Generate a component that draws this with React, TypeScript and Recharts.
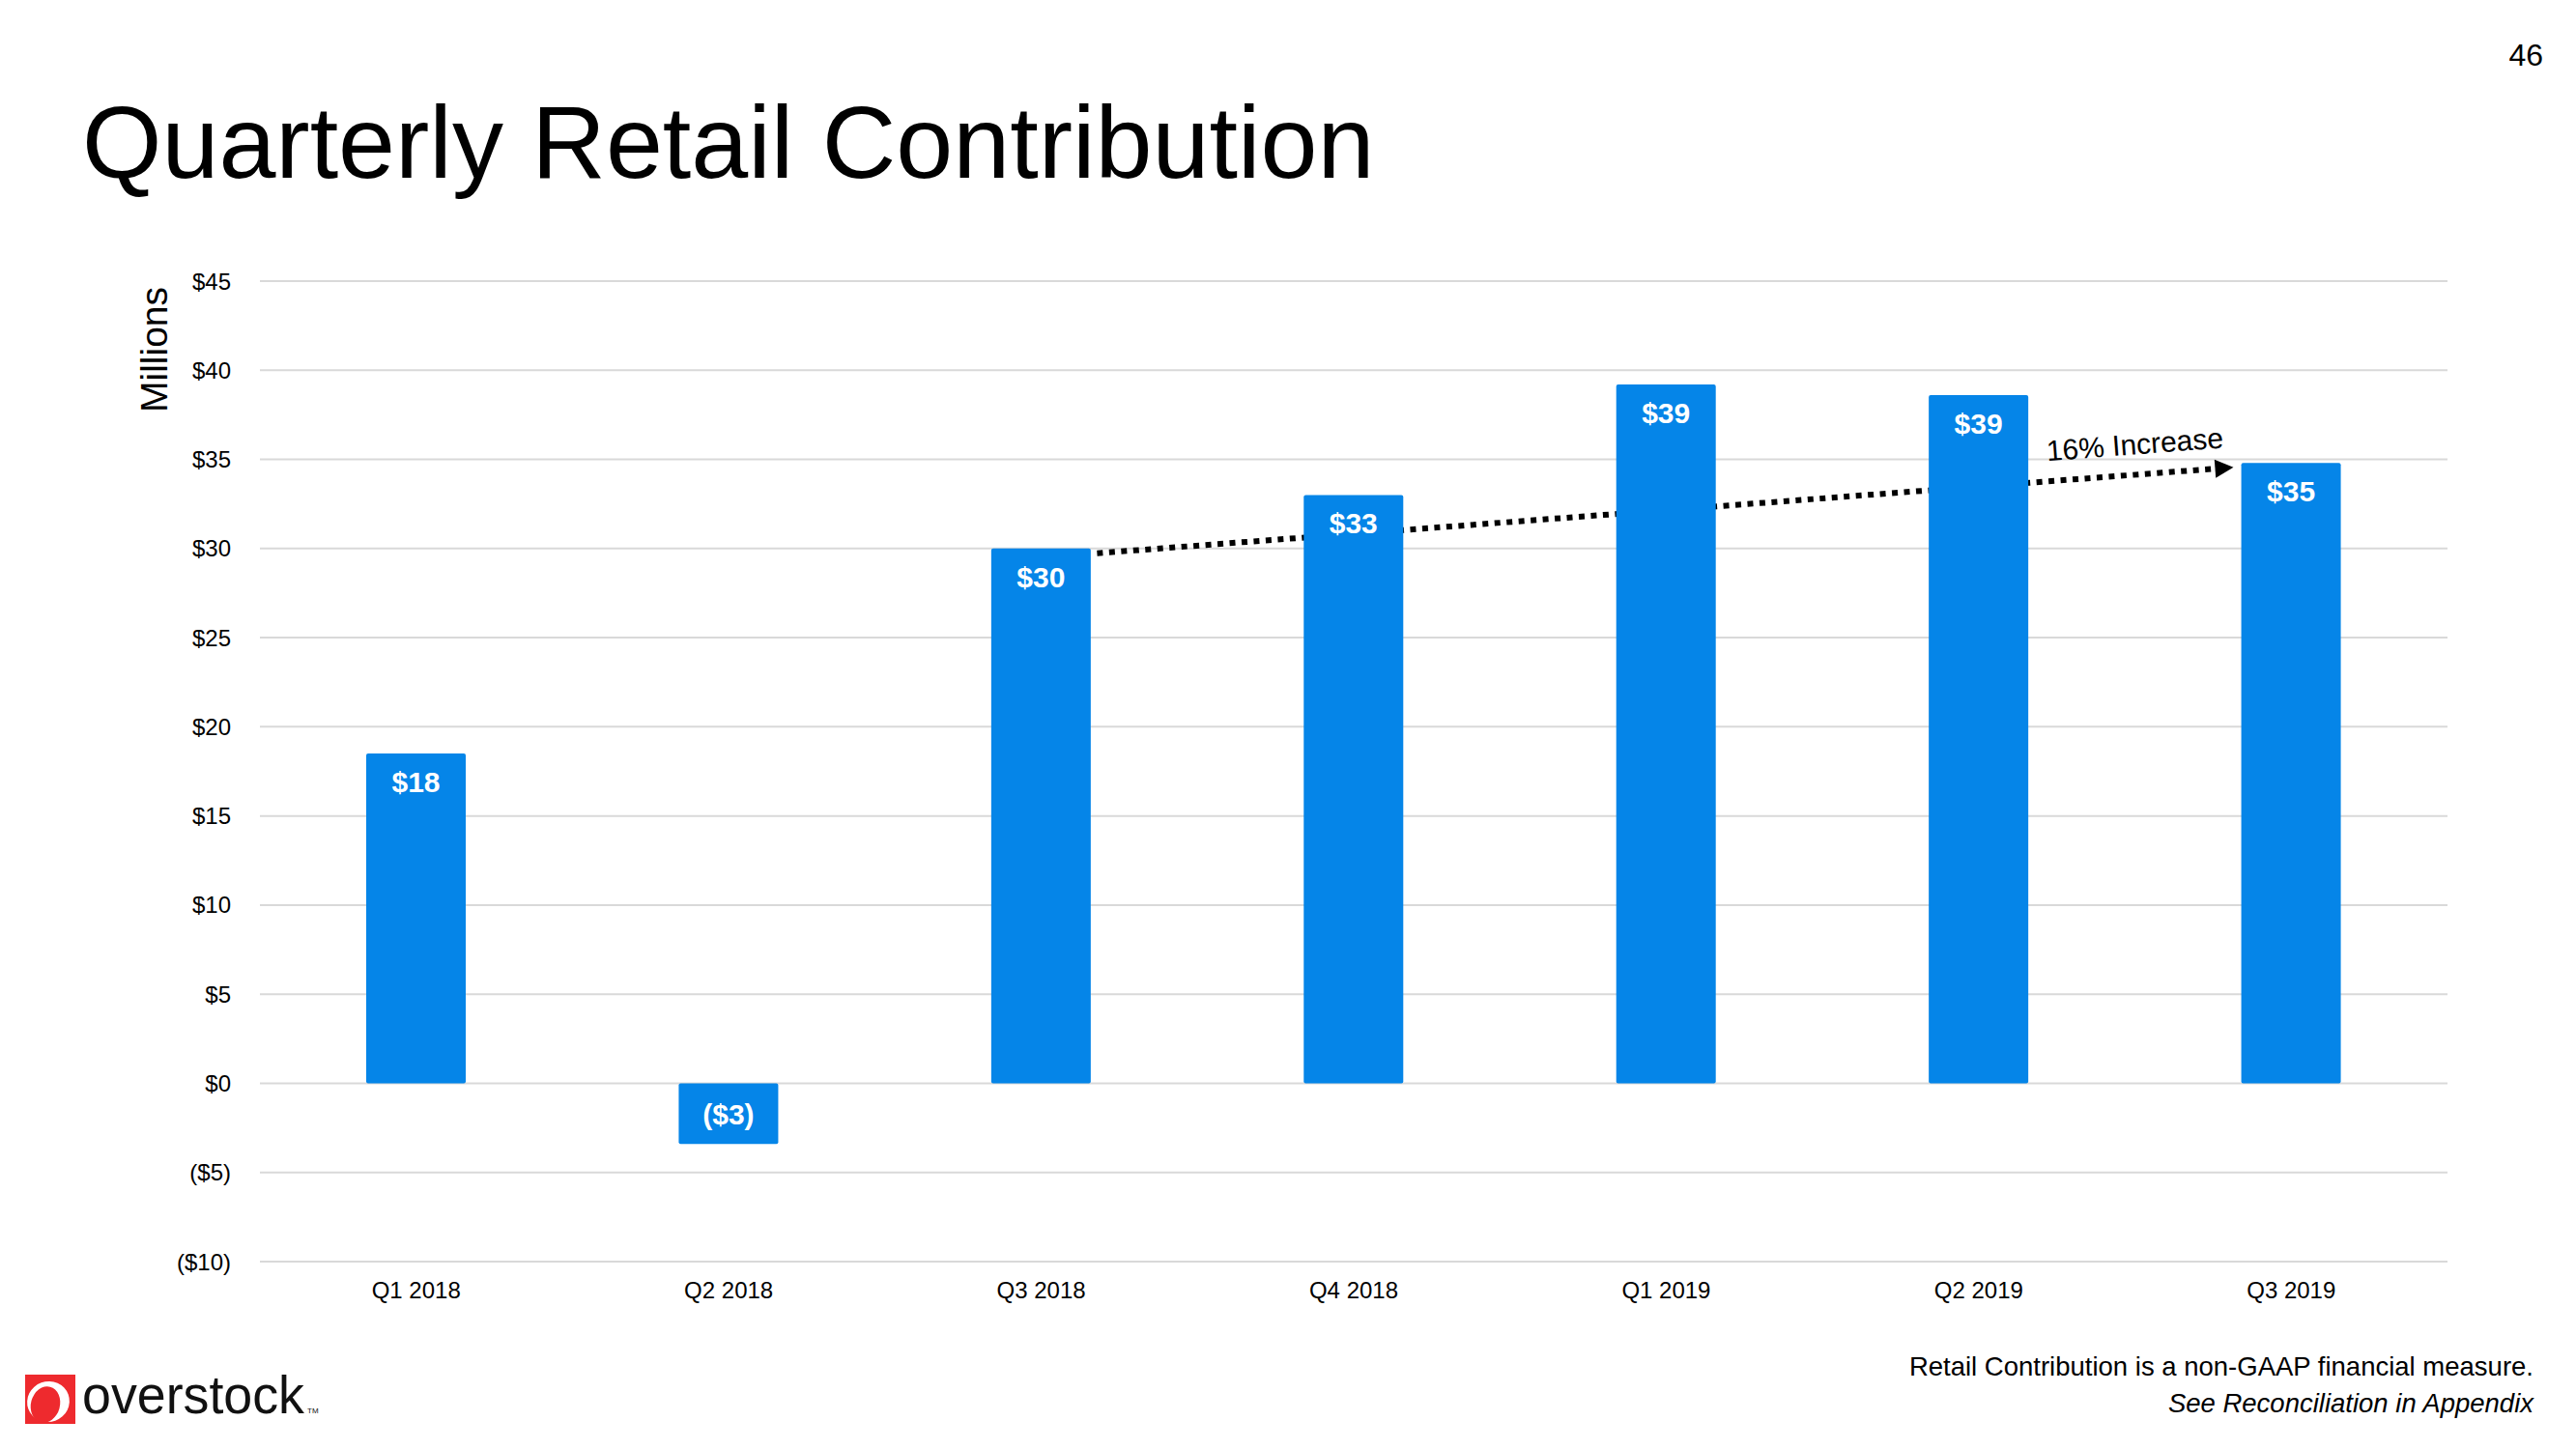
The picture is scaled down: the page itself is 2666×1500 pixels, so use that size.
import { ComposedChart, Bar, XAxis, YAxis, CartesianGrid, ReferenceLine, LabelList } from "recharts";

const quarters = ["Q1 2018", "Q2 2018", "Q3 2018", "Q4 2018", "Q1 2019", "Q2 2019", "Q3 2019"];
const contribution = [18.5, -3.4, 30.0, 33.0, 39.2, 38.6, 34.8];
const valueLabels = ["$18", "($3)", "$30", "$33", "$39", "$39", "$35"];
const yTicks = [-10, -5, 0, 5, 10, 15, 20, 25, 30, 35, 40, 45];

// dotted trend arrow, Q3 2018 -> Q3 2019
const trendFrom = "Q3 2018";
const trendTo = "Q3 2019";
const trendStart = 29.5;
const trendEnd = 34.8;
const trendLabel = "16% Increase";

const data = quarters.map((q, i) => ({ quarter: q, value: contribution[i], label: valueLabels[i] }));

const FONT = "'Liberation Sans', Arial, Helvetica, sans-serif";
const BLUE = "#0585e8";
const BAR_SIZE = 103;

const money = (v: number) => (v < 0 ? `($${-v})` : `$${v}`);

function BarValue(props: any) {
  const { x, y, width, height, index } = props;
  const top = Math.min(y, y + height);
  const bottom = Math.max(y, y + height);
  const neg = contribution[index] < 0;
  const cx = x + width / 2;
  return (
    <text
      x={cx}
      y={neg ? (top + bottom) / 2 + 11 : top + 40}
      textAnchor="middle"
      fill="#fff"
      fontFamily={FONT}
      fontWeight="bold"
      fontSize={30}
    >
      {valueLabels[index]}
    </text>
  );
}

function TrendArrow(props: any) {
  const { x1, y1, x2, y2 } = props;
  if ([x1, y1, x2, y2].some((v) => typeof v !== "number" || isNaN(v))) return null;
  const dx = x2 - x1;
  const dy = y2 - y1;
  const len = Math.hypot(dx, dy);
  const ux = dx / len;
  const uy = dy / len;
  const startTrim = 58;
  const endTrim = 60;
  const head = 19;
  const sx = x1 + ux * startTrim;
  const sy = y1 + uy * startTrim;
  const tx = x2 - ux * endTrim;
  const ty = y2 - uy * endTrim;
  const bx = tx - ux * head;
  const by = ty - uy * head;
  const nx = -uy;
  const ny = ux;
  const angle = (Math.atan2(dy, dx) * 180) / Math.PI;
  const lx = tx - ux * 100 + uy * 21;
  const ly = ty - uy * 100 - ux * 21;
  return (
    <g>
      <line x1={sx} y1={sy} x2={bx} y2={by} stroke="#000" strokeWidth={6} strokeDasharray="6 6.5" />
      <polygon
        points={`${tx},${ty} ${bx + nx * 9.5},${by + ny * 9.5} ${bx - nx * 9.5},${by - ny * 9.5}`}
        fill="#000"
      />
      <text
        x={lx}
        y={ly}
        textAnchor="middle"
        fontFamily={FONT}
        fontSize={30}
        fill="#000"
        transform={`rotate(${angle} ${lx} ${ly})`}
      >
        {trendLabel}
      </text>
    </g>
  );
}

export default function App() {
  return (
    <div style={{ position: "relative", width: 2666, height: 1500, background: "#fff", overflow: "hidden" }}>
      <style>{`body{margin:0}`}</style>
      <ComposedChart
        width={2666}
        height={1500}
        data={data}
        margin={{ top: 291, right: 133, bottom: 134, left: 149 }}
        style={{ position: "absolute", left: 0, top: 0 }}
      >
        <CartesianGrid vertical={false} stroke="#d9d9d9" strokeWidth={2} />
        <XAxis
          dataKey="quarter"
          height={60}
          axisLine={false}
          tickLine={false}
          tickSize={0}
          tickMargin={21}
          interval={0}
          tick={{ fontSize: 24, fill: "#000", fontFamily: FONT }}
        />
        <YAxis
          width={120}
          domain={[-10, 45]}
          ticks={yTicks}
          interval={0}
          axisLine={false}
          tickLine={false}
          tickSize={0}
          tickMargin={30}
          tickFormatter={money}
          tick={{ fontSize: 24, fill: "#000", fontFamily: FONT }}
        />
        <ReferenceLine
          segment={[
            { x: trendFrom, y: trendStart },
            { x: trendTo, y: trendEnd },
          ]}
          zIndex={250}
          ifOverflow="visible"
          shape={TrendArrow}
        />
        <Bar dataKey="value" fill={BLUE} barSize={BAR_SIZE} radius={2} isAnimationActive={false}>
          <LabelList dataKey="label" content={BarValue} />
        </Bar>
      </ComposedChart>
      <svg
        width={2666}
        height={1500}
        style={{ position: "absolute", left: 0, top: 0, pointerEvents: "none" }}
        fontFamily={FONT}
      >
        <text x={85} y={184} fontSize={106} fill="#000">
          Quarterly Retail Contribution
        </text>
        <text x={2632} y={68} fontSize={32} textAnchor="end" fill="#000">
          46
        </text>
        <text
          x={173}
          y={362}
          fontSize={39}
          textAnchor="middle"
          fill="#000"
          transform="rotate(-90 173 362)"
        >
          Millions
        </text>
        <text x={2622} y={1424} fontSize={27.5} textAnchor="end" fill="#000">
          Retail Contribution is a non-GAAP financial measure.
        </text>
        <text x={2622} y={1462} fontSize={27.5} textAnchor="end" fontStyle="italic" fill="#000">
          See Reconciliation in Appendix
        </text>
        <g>
          <rect x={26} y={1423} width={52} height={51} fill="#ee2a2e" />
          <ellipse cx={50} cy={1451} rx={22} ry={21} fill="#fff" transform="rotate(-20 50 1451)" />
          <ellipse cx={47} cy={1454} rx={15} ry={19} fill="#ee2a2e" transform="rotate(15 47 1454)" />
          <text x={85} y={1463} fontSize={55} fill="#111" textLength={230} lengthAdjust="spacingAndGlyphs">
            overstock
          </text>
          <text x={318} y={1463} fontSize={8} fill="#111">
            TM
          </text>
        </g>
      </svg>
    </div>
  );
}
